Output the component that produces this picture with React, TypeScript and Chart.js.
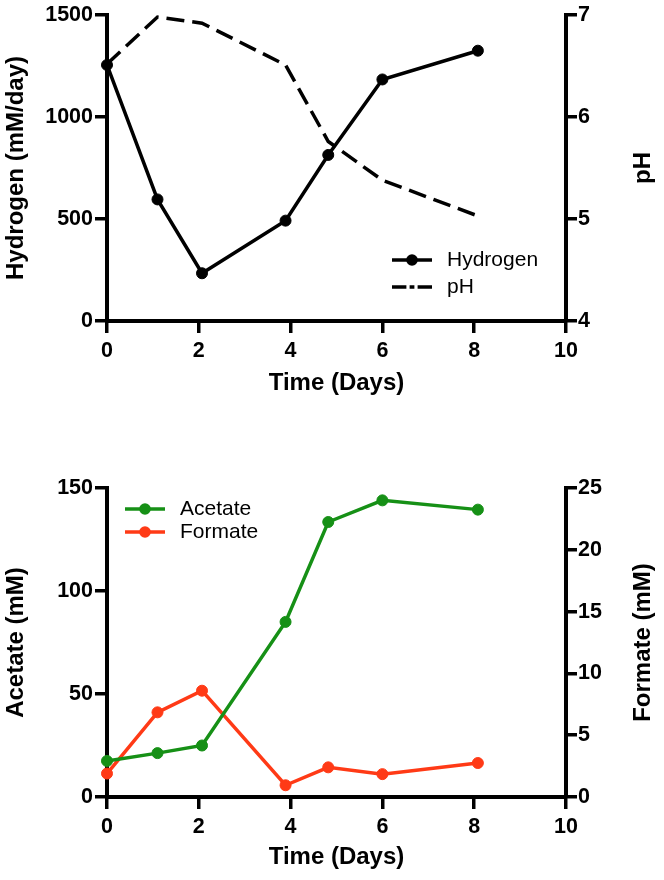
import React, { useEffect, useRef } from 'react';
import { Chart, registerables } from 'chart.js';

Chart.register(...registerables);

// ---- data ----
const days = [0, 1.1, 2.07, 3.89, 4.82, 6.0, 8.08];
const hydrogen = [1255, 596, 234, 492, 814, 1184, 1325];
const ph = [6.52, 6.98, 6.92, 6.51, 5.76, 5.38, 5.03];
const acetate = [17.5, 21.3, 25, 85, 133.5, 144, 139.5];
const formate = [1.9, 6.85, 8.6, 0.95, 2.4, 1.85, 2.75];

const timeTicks = [0, 2, 4, 6, 8, 10];
const hydrogenTicks = [0, 500, 1000, 1500];
const phTicks = [4, 5, 6, 7];
const acetateTicks = [0, 50, 100, 150];
const formateTicks = [0, 5, 10, 15, 20, 25];

// ---- styles ----
const FONT = '"Liberation Sans", Arial, Helvetica, sans-serif';
const GREEN = '#169016';
const RED = '#ff3a16';
const tickFont = { family: FONT, size: 21.5, weight: 'bold' as const };
const titleFont = { family: FONT, size: 24, weight: 'bold' as const };

const pts = (vals: number[]) => vals.map((v, i) => ({ x: days[i], y: v }));
const setTicks = (arr: number[]) => (s: any) => {
  s.ticks = arr.map((v) => ({ value: v }));
};
const plain = (v: any) => String(v);

function xScale(height: number, titlePadBottom: number) {
  return {
    type: 'linear',
    position: 'bottom',
    min: timeTicks[0],
    max: timeTicks[timeTicks.length - 1],
    afterBuildTicks: setTicks(timeTicks),
    ticks: { font: tickFont, color: '#000', padding: 5, maxRotation: 0, autoSkip: false, callback: plain },
    grid: { drawOnChartArea: false, drawTicks: true, tickLength: 12, color: '#000', lineWidth: 3.5 },
    border: { display: true, color: '#000', width: 4 },
    title: {
      display: true,
      text: 'Time (Days)',
      font: titleFont,
      color: '#000',
      padding: { top: 0, bottom: titlePadBottom },
    },
    afterFit: (s: any) => {
      s.height = height;
    },
  };
}

function yScale(arr: number[], position: 'left' | 'right', width: number, title?: string) {
  return {
    type: 'linear',
    position,
    min: arr[0],
    max: arr[arr.length - 1],
    afterBuildTicks: setTicks(arr),
    ticks: { font: tickFont, color: '#000', padding: position === 'left' ? 2 : 1, autoSkip: false, callback: plain },
    grid: { drawOnChartArea: false, drawTicks: true, tickLength: position === 'left' ? 12 : 11, color: '#000', lineWidth: 3.5 },
    border: { display: true, color: '#000', width: 4 },
    title: title
      ? { display: true, text: title, font: titleFont, color: '#000', padding: { top: 2, bottom: 0 } }
      : { display: false },
    afterFit: (s: any) => {
      s.width = width;
    },
  };
}

type LegendEntry = { label: string; color: string; y: number; kind: 'marker' | 'dashdot' };

function legendPlugin(items: LegendEntry[], x0: number, x1: number, textX: number) {
  return {
    id: 'customLegend',
    afterDraw(chart: any) {
      const ctx = chart.ctx as CanvasRenderingContext2D;
      ctx.save();
      for (const it of items) {
        ctx.strokeStyle = it.color;
        ctx.fillStyle = it.color;
        ctx.lineWidth = 3.5;
        ctx.lineCap = 'butt';
        if (it.kind === 'marker') {
          ctx.beginPath();
          ctx.moveTo(x0, it.y);
          ctx.lineTo(x1, it.y);
          ctx.stroke();
          ctx.beginPath();
          ctx.arc((x0 + x1) / 2, it.y, 5.8, 0, Math.PI * 2);
          ctx.fill();
        } else {
          const w = x1 - x0;
          const segs = [
            [0, 0.36],
            [0.44, 0.56],
            [0.64, 1],
          ];
          for (const [a, b] of segs) {
            ctx.beginPath();
            ctx.moveTo(x0 + a * w, it.y);
            ctx.lineTo(x0 + b * w, it.y);
            ctx.stroke();
          }
        }
        ctx.fillStyle = '#000';
        ctx.font = `21px ${FONT}`;
        ctx.textAlign = 'left';
        ctx.textBaseline = 'middle';
        ctx.fillText(it.label, textX, it.y);
      }
      ctx.restore();
    },
  };
}

function rightTitlePlugin(text: string, x: number) {
  return {
    id: 'rightTitle',
    afterDraw(chart: any) {
      const ctx = chart.ctx as CanvasRenderingContext2D;
      const { top, bottom } = chart.chartArea;
      ctx.save();
      ctx.translate(x, (top + bottom) / 2);
      ctx.rotate(-Math.PI / 2);
      ctx.font = `bold 24px ${FONT}`;
      ctx.fillStyle = '#000';
      ctx.textAlign = 'center';
      ctx.textBaseline = 'middle';
      ctx.fillText(text, 0, 0);
      ctx.restore();
    },
  };
}

const markerLine = (label: string, vals: number[], color: string, axis: string) => ({
  label,
  data: pts(vals),
  yAxisID: axis,
  borderColor: color,
  backgroundColor: color,
  borderWidth: 3.5,
  pointRadius: 5.5,
  pointBorderWidth: 1,
  pointBackgroundColor: color,
  pointBorderColor: color,
  tension: 0,
  clip: false,
});

function topConfig(): any {
  return {
    type: 'line',
    data: {
      datasets: [
        markerLine('Hydrogen', hydrogen, '#000', 'y'),
        {
          label: 'pH',
          data: pts(ph),
          yAxisID: 'y1',
          borderColor: '#000',
          borderWidth: 3.5,
          borderDash: [18, 8],
          pointRadius: 0,
          tension: 0,
          clip: false,
        },
      ],
    },
    options: {
      responsive: false,
      animation: false,
      devicePixelRatio: 1,
      layout: { padding: { top: 15, left: 0, right: 0, bottom: 0 } },
      plugins: { legend: { display: false }, tooltip: { enabled: false } },
      scales: {
        x: xScale(119, 42.6),
        y: yScale(hydrogenTicks, 'left', 107, 'Hydrogen (mM/day)'),
        y1: yScale(phTicks, 'right', 98),
      },
    },
    plugins: [
      legendPlugin(
        [
          { label: 'Hydrogen', color: '#000', y: 260, kind: 'marker' },
          { label: 'pH', color: '#000', y: 287, kind: 'dashdot' },
        ],
        392,
        432,
        447
      ),
      rightTitlePlugin('pH', 643),
    ],
  };
}

function bottomConfig(): any {
  return {
    type: 'line',
    data: {
      datasets: [
        markerLine('Acetate', acetate, GREEN, 'y'),
        markerLine('Formate', formate, RED, 'y1'),
      ],
    },
    options: {
      responsive: false,
      animation: false,
      devicePixelRatio: 1,
      layout: { padding: { top: 48, left: 0, right: 0, bottom: 0 } },
      plugins: { legend: { display: false }, tooltip: { enabled: false } },
      scales: {
        x: xScale(83, 8.6),
        y: yScale(acetateTicks, 'left', 107, 'Acetate (mM)'),
        y1: yScale(formateTicks, 'right', 98),
      },
    },
    plugins: [
      legendPlugin(
        [
          { label: 'Acetate', color: GREEN, y: 69, kind: 'marker' },
          { label: 'Formate', color: RED, y: 92, kind: 'marker' },
        ],
        125,
        165,
        180
      ),
      rightTitlePlugin('Formate (mM)', 643),
    ],
  };
}

export default function App() {
  const topRef = useRef<HTMLCanvasElement>(null);
  const botRef = useRef<HTMLCanvasElement>(null);

  useEffect(() => {
    const c1 = new Chart(topRef.current as HTMLCanvasElement, topConfig());
    const c2 = new Chart(botRef.current as HTMLCanvasElement, bottomConfig());
    return () => {
      c1.destroy();
      c2.destroy();
    };
  }, []);

  return (
    <div style={{ position: 'absolute', left: 0, top: 0, width: 664, height: 880, background: '#fff' }}>
      <canvas
        ref={topRef}
        width={664}
        height={440}
        style={{ position: 'absolute', left: 0, top: 0, width: 664, height: 440 }}
      />
      <canvas
        ref={botRef}
        width={664}
        height={440}
        style={{ position: 'absolute', left: 0, top: 440, width: 664, height: 440 }}
      />
    </div>
  );
}
